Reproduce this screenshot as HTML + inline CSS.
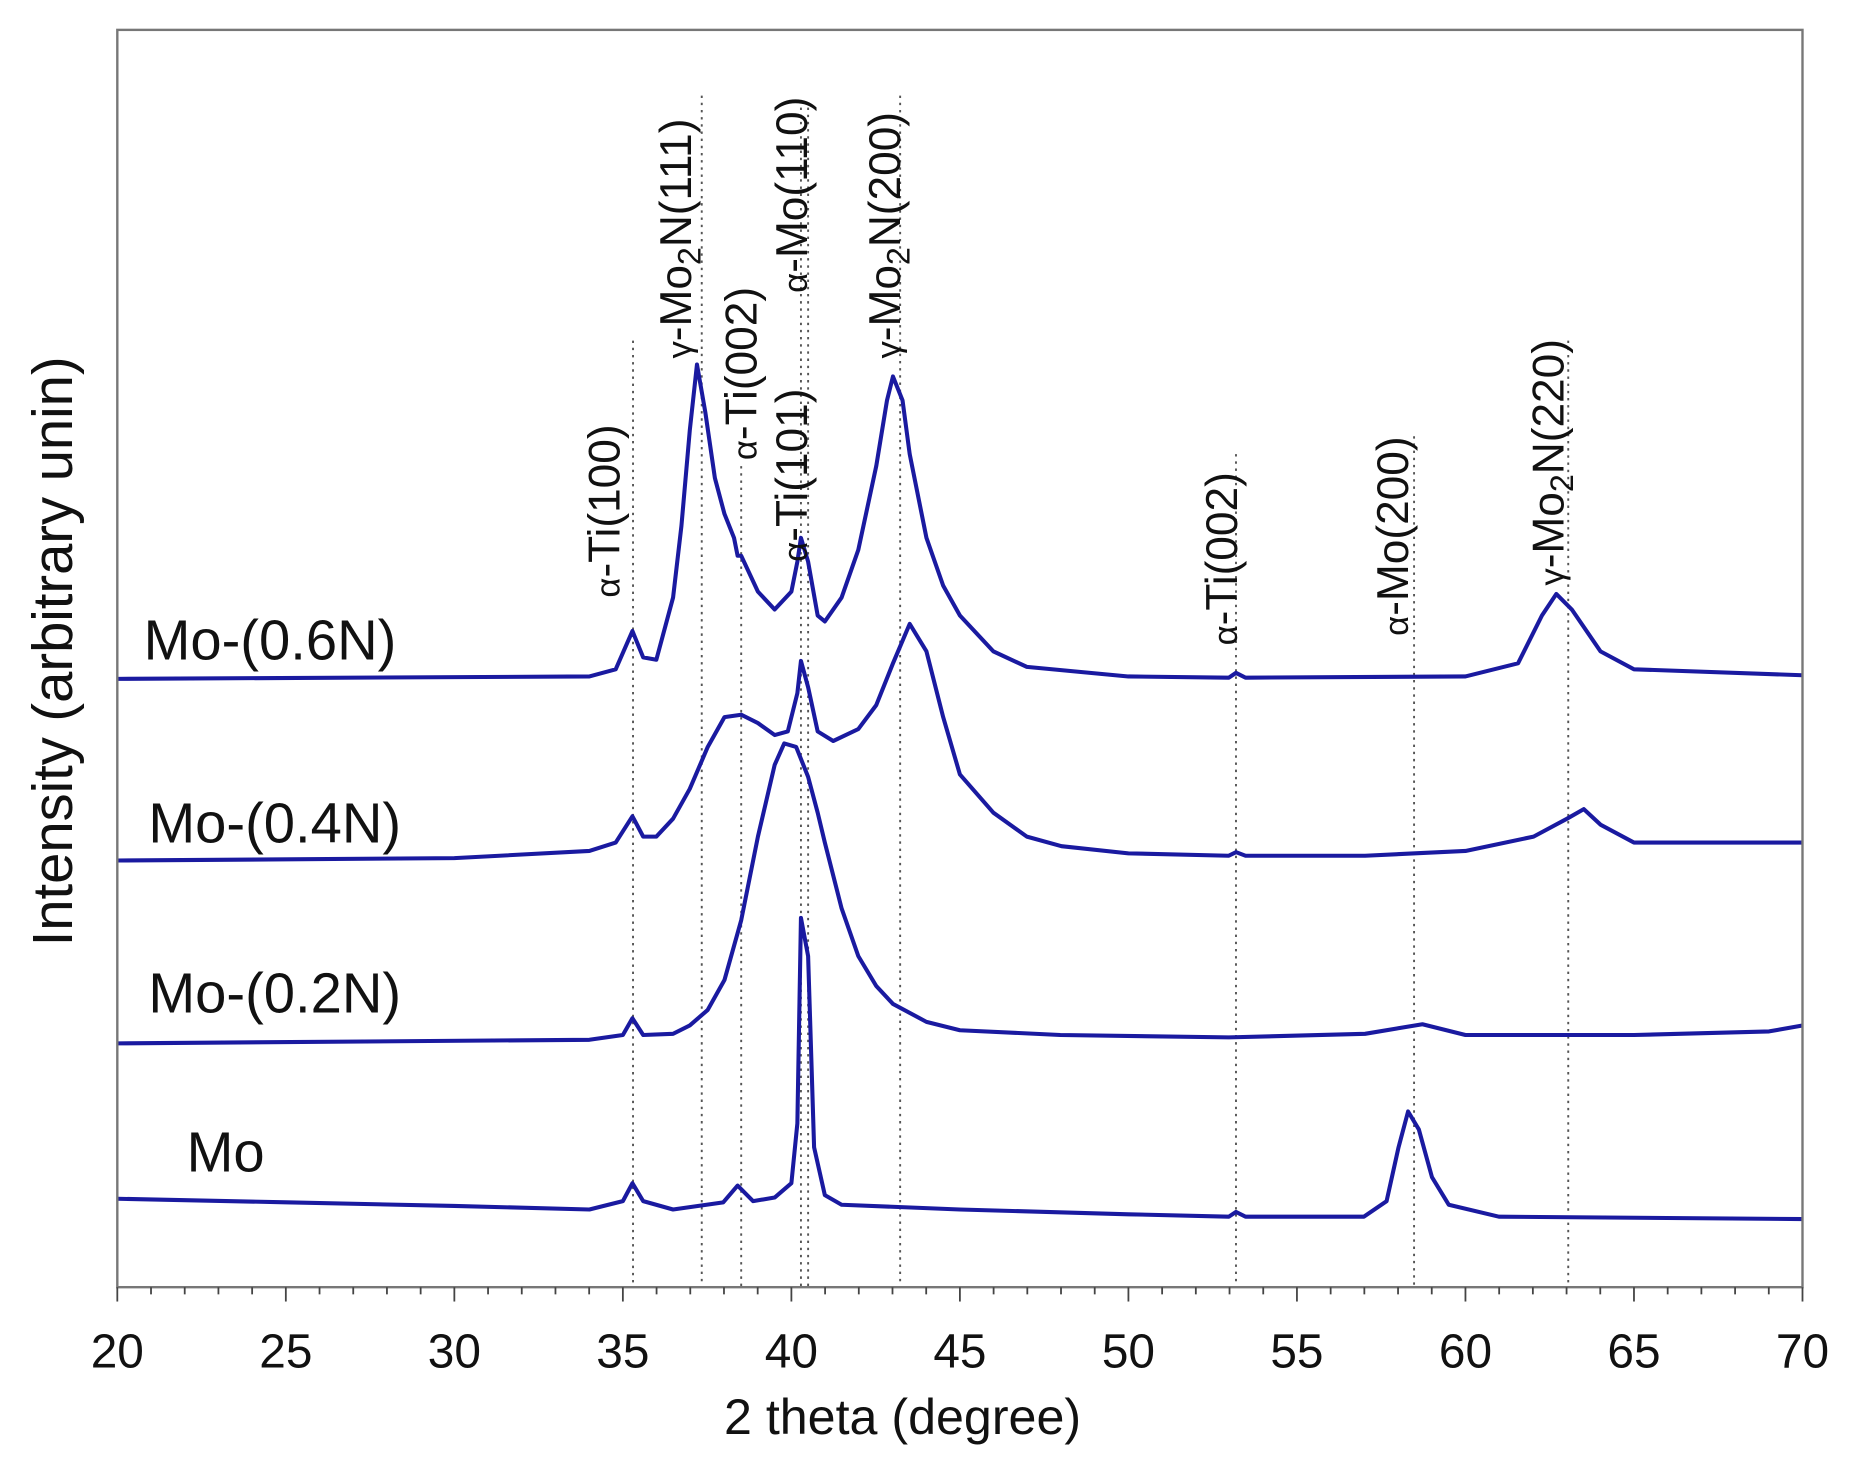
<!DOCTYPE html>
<html><head><meta charset="utf-8"><style>html,body{margin:0;padding:0;background:#fff}svg{display:block}</style></head>
<body>
<svg width="1872" height="1482" viewBox="0 0 1566 1240" xmlns="http://www.w3.org/2000/svg" font-family="Liberation Sans, sans-serif">
<rect width="1566" height="1240" fill="#fff"/>
<g stroke="#555" stroke-width="1.6" stroke-dasharray="2,4">
<line x1="529.5" y1="285" x2="529.5" y2="1077"/>
<line x1="587" y1="80" x2="587" y2="1077"/>
<line x1="620" y1="390" x2="620" y2="1077"/>
<line x1="670" y1="90" x2="670" y2="1077"/>
<line x1="676" y1="90" x2="676" y2="1077"/>
<line x1="753" y1="80" x2="753" y2="1077"/>
<line x1="1034" y1="380" x2="1034" y2="1077"/>
<line x1="1183" y1="365" x2="1183" y2="1077"/>
<line x1="1312" y1="285" x2="1312" y2="1077"/>
</g>
<g fill="none" stroke="#1a1aa0" stroke-width="3.4" stroke-linejoin="round">
<polyline points="98,1003 239,1006 380,1009 493,1012 521,1005 529,990 538,1005 563,1012 605,1006 617,992 630,1005 648,1002 662,990 667,940 670,768 676,800 681,960 690,1000 704,1008 803,1012 944,1016 1028,1018 1034,1014 1042,1018 1141,1018 1160,1005 1170,960 1178,930 1187,945 1198,985 1212,1008 1254,1018 1508,1020"/>
<polyline points="98,873 493,870 521,866 529,852 538,866 563,865 577,858 592,845 606,820 620,770 634,700 648,640 656,622 666,625 676,650 684,680 690,705 704,760 718,800 733,825 747,840 775,855 803,862 887,866 1028,868 1142,865 1190,857 1226,866 1367,866 1480,863 1508,858"/>
<polyline points="98,720 380,718 493,712 515,705 529,683 538,700 549,700 563,685 577,660 592,625 606,600 620,598 634,605 648,615 659,612 667,580 670,553 676,575 684,612 697,620 718,610 733,590 747,555 761,522 775,545 789,600 803,648 831,680 859,700 888,708 944,714 1028,716 1034,713 1042,716 1142,716 1226,712 1283,700 1311,685 1325,677 1339,690 1367,705 1508,705"/>
<polyline points="98,568 493,566 515,560 529,528 538,550 549,552 563,500 570,440 577,360 583,305 590,345 598,400 606,430 614,450 617,465 620,465 634,495 648,510 662,495 667,470 670,450 676,470 684,515 690,520 704,500 718,460 733,390 742,335 747,315 755,335 761,380 775,450 789,490 803,515 831,545 859,558 944,566 1028,567 1034,563 1042,567 1226,566 1270,555 1290,515 1302,497 1315,510 1339,545 1367,560 1508,565"/>
</g>
<rect x="98" y="25" width="1410" height="1052" fill="none" stroke="#777" stroke-width="2"/>
<g stroke="#444" stroke-width="1.5">
<line x1="98" y1="1077" x2="98" y2="1089"/><line x1="126.2" y1="1077" x2="126.2" y2="1083"/><line x1="154.4" y1="1077" x2="154.4" y2="1083"/><line x1="182.6" y1="1077" x2="182.6" y2="1083"/><line x1="210.8" y1="1077" x2="210.8" y2="1083"/>
<line x1="239" y1="1077" x2="239" y2="1089"/><line x1="267.2" y1="1077" x2="267.2" y2="1083"/><line x1="295.4" y1="1077" x2="295.4" y2="1083"/><line x1="323.6" y1="1077" x2="323.6" y2="1083"/><line x1="351.8" y1="1077" x2="351.8" y2="1083"/>
<line x1="380" y1="1077" x2="380" y2="1089"/><line x1="408.2" y1="1077" x2="408.2" y2="1083"/><line x1="436.4" y1="1077" x2="436.4" y2="1083"/><line x1="464.6" y1="1077" x2="464.6" y2="1083"/><line x1="492.8" y1="1077" x2="492.8" y2="1083"/>
<line x1="521" y1="1077" x2="521" y2="1089"/><line x1="549.2" y1="1077" x2="549.2" y2="1083"/><line x1="577.4" y1="1077" x2="577.4" y2="1083"/><line x1="605.6" y1="1077" x2="605.6" y2="1083"/><line x1="633.8" y1="1077" x2="633.8" y2="1083"/>
<line x1="662" y1="1077" x2="662" y2="1089"/><line x1="690.2" y1="1077" x2="690.2" y2="1083"/><line x1="718.4" y1="1077" x2="718.4" y2="1083"/><line x1="746.6" y1="1077" x2="746.6" y2="1083"/><line x1="774.8" y1="1077" x2="774.8" y2="1083"/>
<line x1="803" y1="1077" x2="803" y2="1089"/><line x1="831.2" y1="1077" x2="831.2" y2="1083"/><line x1="859.4" y1="1077" x2="859.4" y2="1083"/><line x1="887.6" y1="1077" x2="887.6" y2="1083"/><line x1="915.8" y1="1077" x2="915.8" y2="1083"/>
<line x1="944" y1="1077" x2="944" y2="1089"/><line x1="972.2" y1="1077" x2="972.2" y2="1083"/><line x1="1000.4" y1="1077" x2="1000.4" y2="1083"/><line x1="1028.6" y1="1077" x2="1028.6" y2="1083"/><line x1="1056.8" y1="1077" x2="1056.8" y2="1083"/>
<line x1="1085" y1="1077" x2="1085" y2="1089"/><line x1="1113.2" y1="1077" x2="1113.2" y2="1083"/><line x1="1141.4" y1="1077" x2="1141.4" y2="1083"/><line x1="1169.6" y1="1077" x2="1169.6" y2="1083"/><line x1="1197.8" y1="1077" x2="1197.8" y2="1083"/>
<line x1="1226" y1="1077" x2="1226" y2="1089"/><line x1="1254.2" y1="1077" x2="1254.2" y2="1083"/><line x1="1282.4" y1="1077" x2="1282.4" y2="1083"/><line x1="1310.6" y1="1077" x2="1310.6" y2="1083"/><line x1="1338.8" y1="1077" x2="1338.8" y2="1083"/>
<line x1="1367" y1="1077" x2="1367" y2="1089"/><line x1="1395.2" y1="1077" x2="1395.2" y2="1083"/><line x1="1423.4" y1="1077" x2="1423.4" y2="1083"/><line x1="1451.6" y1="1077" x2="1451.6" y2="1083"/><line x1="1479.8" y1="1077" x2="1479.8" y2="1083"/>
<line x1="1508" y1="1077" x2="1508" y2="1089"/>
</g>
<g font-size="40" fill="#111" text-anchor="middle">
<text x="98" y="1144">20</text><text x="239" y="1144">25</text><text x="380" y="1144">30</text><text x="521" y="1144">35</text><text x="662" y="1144">40</text><text x="803" y="1144">45</text><text x="944" y="1144">50</text><text x="1085" y="1144">55</text><text x="1226" y="1144">60</text><text x="1367" y="1144">65</text><text x="1508" y="1144">70</text>
</g>
<text x="755" y="1200" font-size="42" text-anchor="middle" fill="#111">2 theta  (degree)</text>
<text transform="translate(60,545) rotate(-90)" font-size="47" text-anchor="middle" fill="#111">Intensity (arbitrary unin)</text>
<g font-size="47" fill="#111">
<text x="120" y="552">Mo-(0.6N)</text>
<text x="124" y="705">Mo-(0.4N)</text>
<text x="124" y="847">Mo-(0.2N)</text>
<text x="156" y="980">Mo</text>
</g>
<g font-size="37" fill="#111">
<text transform="translate(518,500) rotate(-90)"><tspan font-size="29">α</tspan>-Ti(100)</text>
<text transform="translate(578,300) rotate(-90)"><tspan font-size="29">γ</tspan>-Mo<tspan font-size="27" dy="8">2</tspan><tspan dy="-8">N(111)</tspan></text>
<text transform="translate(633,385) rotate(-90)"><tspan font-size="29">α</tspan>-Ti(002)</text>
<text transform="translate(675,470) rotate(-90)"><tspan font-size="29">α</tspan>-Ti(101)</text>
<text transform="translate(675,245) rotate(-90)"><tspan font-size="29">α</tspan>-Mo(110)</text>
<text transform="translate(753,300) rotate(-90)"><tspan font-size="29">γ</tspan>-Mo<tspan font-size="27" dy="8">2</tspan><tspan dy="-8">N(200)</tspan></text>
<text transform="translate(1035,540) rotate(-90)"><tspan font-size="29">α</tspan>-Ti(002)</text>
<text transform="translate(1178,532) rotate(-90)"><tspan font-size="29">α</tspan>-Mo(200)</text>
<text transform="translate(1308,490) rotate(-90)"><tspan font-size="29">γ</tspan>-Mo<tspan font-size="27" dy="8">2</tspan><tspan dy="-8">N(220)</tspan></text>
</g>
</svg>
</body></html>
